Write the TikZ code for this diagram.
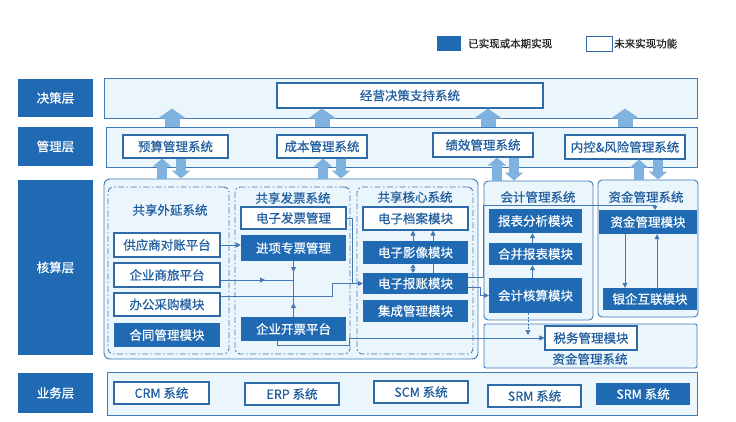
\documentclass[tikz,border=0pt]{standalone}
\usepackage{fontspec}
\setmainfont{Noto Sans CJK SC}[FakeBold=0.5]
\usetikzlibrary{arrows.meta}
\definecolor{dblue}{HTML}{1F6AB3}
\definecolor{pfill}{HTML}{EBF5FC}
\definecolor{pline}{HTML}{3E7BB8}
\definecolor{bline}{HTML}{2E6BA8}
\definecolor{btext}{HTML}{1F5D9E}
\definecolor{afill}{HTML}{7FB2DF}
\definecolor{cline}{HTML}{4577B4}
\pgfdeclarelayer{bg}
\pgfdeclarelayer{conn}
\pgfsetlayers{bg,conn,main}
\tikzset{
 lab/.style={fill=dblue, text=white, inner sep=0},
 panel/.style={fill=pfill, draw=pline, line width=0.9pt, inner sep=0},
 wbox/.style={fill=white, draw=bline, line width=1.1pt, text=btext, inner sep=0},
 bbox/.style={fill=dblue, text=white, inner sep=0},
 grp/.style={draw=cline, line width=0.9pt, dash pattern=on 6pt off 2.5pt on 1.5pt off 2.5pt, rounded corners=5pt, inner sep=0},
 ttl/.style={text=btext, inner sep=0},
 cl/.style={draw=cline, line width=0.8pt},
 tip/.style={-{Triangle[length=5pt,width=5pt]}},
 bigarr/.style={draw=afill, line width=15pt, -{Triangle[length=10pt,width=28pt]}},
 smarr/.style={draw=afill, line width=10pt, -{Triangle[length=8pt,width=18pt]}},
}
\newcommand\mkbox[7]{%
 \pgfmathsetmacro\mkW{#5-#3}\pgfmathsetmacro\mkH{#6-#4}%
 \pgfmathsetmacro\mkX{(#3+#5)/2}\pgfmathsetmacro\mkY{(#4+#6)/2}%
 \node[#1,minimum width=\mkW pt,minimum height=\mkH pt] (#2) at (\mkX,\mkY) {#7};}
\begin{document}
\begin{tikzpicture}[x=1pt,y=-1pt,font=\fontsize{12.5}{14}\selectfont]
\useasboundingbox (0,0) rectangle (736,421);
\begin{pgfonlayer}{bg}
\fill[white] (0,0) rectangle (736,421);
\mkbox{panel}{P1}{104}{78}{697}{118}{}
\mkbox{panel}{P2}{106}{127}{697}{167}{}
\mkbox{panel,rounded corners=6pt}{P3}{104}{179}{478}{359}{}
\mkbox{panel,rounded corners=4pt}{P4}{484}{181}{593}{320}{}
\mkbox{panel,rounded corners=4pt}{P5}{598}{180}{698}{317}{}
\mkbox{panel,rounded corners=2pt}{P6}{484}{324}{697}{368}{}
\mkbox{panel}{P7}{107}{372}{697}{415}{}
\mkbox{grp}{D1}{108}{187}{229}{354}{}
\mkbox{grp}{D2}{235}{187}{350}{354}{}
\mkbox{grp}{D3}{357}{187}{473}{354}{}
\end{pgfonlayer}

% legend
\mkbox{bbox}{lg1}{437}{36}{461}{51}{}
\node[anchor=west, text=black!85, inner sep=0, font=\fontsize{10.5}{12}\selectfont] (lt1) at (468,43.5) {已实现或本期实现};
\mkbox{wbox,line width=0.9pt}{lg2}{586}{36}{612}{51}{}
\node[anchor=west, text=black!85, inner sep=0, font=\fontsize{10.5}{12}\selectfont] (lt2) at (614,43.5) {未来实现功能};

% layer labels
\mkbox{lab}{L1}{18}{79}{93}{117}{决策层}
\mkbox{lab}{L2}{18}{127}{93}{166}{管理层}
\mkbox{lab}{L3}{18}{180}{93}{355}{核算层}
\mkbox{lab}{L4}{18}{373}{93}{413}{业务层}

% decision / management
\mkbox{wbox}{jc}{277}{83}{543}{108}{经营决策支持系统}
\mkbox{wbox}{ys}{123}{135}{228}{158}{预算管理系统}
\mkbox{wbox}{cb}{277}{135}{367}{158}{成本管理系统}
\mkbox{wbox}{jx2}{433}{133}{533}{157}{绩效管理系统}
\mkbox{wbox}{nk}{565}{135}{685}{159}{内控\&风险管理系统}

% titles
\node[ttl] (t1) at (170,210) {共享外延系统};
\node[ttl] (t2) at (293,198) {共享发票系统};
\node[ttl] (t3) at (415,197) {共享核心系统};
\node[ttl] (t4) at (538,197) {会计管理系统};
\node[ttl] (t5) at (646,197) {资金管理系统};
\node[ttl] (t6) at (590,359) {资金管理系统};

% shared extension
\mkbox{wbox}{gys}{114}{233}{220}{257}{供应商对账平台}
\mkbox{wbox}{sl}{114}{263}{220}{287}{企业商旅平台}
\mkbox{wbox}{bg}{114}{293}{220}{316}{办公采购模块}
\mkbox{bbox}{ht}{114}{323}{220}{347}{合同管理模块}
% shared invoice
\mkbox{wbox}{fp}{241}{207}{346}{229}{电子发票管理}
\mkbox{bbox}{jx}{241}{235}{346}{261}{进项专票管理}
\mkbox{bbox}{kp}{241}{317}{346}{341}{企业开票平台}
% shared core
\mkbox{wbox}{da}{363}{207}{468}{230}{电子档案模块}
\mkbox{bbox}{yx}{363}{241}{468}{264}{电子影像模块}
\mkbox{bbox}{bz}{363}{273}{468}{294}{电子报账模块}
\mkbox{bbox}{jcm}{363}{300}{468}{322}{集成管理模块}
% accounting
\mkbox{bbox}{bb}{489}{209}{582}{233}{报表分析模块}
\mkbox{bbox}{hb}{489}{243}{582}{265}{合并报表模块}
\mkbox{bbox}{hs}{489}{278}{582}{313}{会计核算模块}
% fund
\mkbox{bbox}{zjmk}{599}{210}{697}{234}{资金管理模块}
\mkbox{bbox}{yq}{603}{288}{697}{310}{银企互联模块}
\mkbox{wbox}{sw}{545}{326}{637}{350}{税务管理模块}

% business layer
\mkbox{wbox}{crm}{114}{382}{209}{404}{CRM 系统}
\mkbox{wbox}{erp}{245}{383}{339}{405}{ERP 系统}
\mkbox{wbox}{scm}{374}{381}{468}{403}{SCM 系统}
\mkbox{wbox}{srm1}{488}{385}{581}{407}{SRM 系统}
\mkbox{bbox}{srm2}{596}{383}{690}{405}{SRM 系统}

% block arrows
\foreach \x [count=\i] in {172,322,488,625} {\coordinate (ba\i) at (\x,0);}
\foreach \i in {1,...,4} {\draw[bigarr] (P2.north -| ba\i) -- (jc.south -| ba\i);}
\coordinate (u1) at (162,0); \coordinate (d1) at (181,0);
\coordinate (u2) at (323,0); \coordinate (d2) at (341,0);
\coordinate (u3) at (497,0); \coordinate (d3) at (514,0);
\coordinate (u4) at (639,0); \coordinate (d4) at (658,0);
\draw[smarr] (P3.north -| u1) -- (ys.south -| u1);
\draw[smarr] (ys.south -| d1) -- (P3.north -| d1);
\draw[smarr] (P3.north -| u2) -- (cb.south -| u2);
\draw[smarr] (cb.south -| d2) -- (P3.north -| d2);
\draw[smarr] (P4.north -| u3) -- (jx2.south -| u3);
\draw[smarr] (jx2.south -| d3) -- (P4.north -| d3);
\draw[smarr] (P5.north -| u4) -- (nk.south -| u4);
\draw[smarr] (nk.south -| d4) -- (P5.north -| d4);

% connectors
\coordinate (j1) at (293.5,280);
\coordinate (j2) at (293.5,296);
\coordinate (j3) at (332,296);
\coordinate (j4) at (352,283.5);
\coordinate (ja) at (293.5,272);
\coordinate (jb) at (293.5,303);
\coordinate (jcx) at (265,280);
\coordinate (jA) at (655,205);
\coordinate (jD) at (528,335);
\coordinate (jE) at (349,338);
\coordinate (c625) at (625,0);
\coordinate (c657) at (657,0);
\begin{pgfonlayer}{conn}
\draw[cl,tip] (gys.east) -- (gys.east -| jx.west);
\draw[cl] (jx.south) -- (kp.north);
\draw[cl,tip] (jx.south) -- (ja);
\draw[cl,tip] (kp.north) -- (jb);
\draw[cl] (sl.east |- j1) -- (j1);
\draw[cl,tip] (sl.east |- j1) -- (jcx);
\draw[cl,tip] (bg.east |- j2) -- (j3) |- (bz.west);
\draw[cl] (fp.east) -| (j4);
\draw[cl,{Triangle[length=4pt,width=5pt]}-{Triangle[length=4pt,width=5pt]}] ([xshift=-2.5pt]bz.north) -- ([xshift=-2.5pt]yx.south);
\draw[cl,tip] ([xshift=-2.5pt]yx.north) -- ([xshift=-2.5pt]da.south);
\draw[cl] ([xshift=17.5pt]bz.north) -- ([xshift=17.5pt]yx.south);
\draw[cl,tip] ([xshift=17.5pt]yx.north) -- ([xshift=17.5pt]da.south);
\draw[cl,-{Triangle[length=4pt,width=5pt]}] ([yshift=6pt]bz.east) -- ++(15,0) |- (jA) -- (jA |- zjmk.north);
\draw[cl,tip] ([yshift=-4pt]bz.east) -- ++(12,0) |- (hs.west);
\draw[cl,tip] ([xshift=-3pt]hs.north) -- ([xshift=-3pt]hb.south);
\draw[cl,tip] ([xshift=-3pt]hb.north) -- ([xshift=-3pt]bb.south);
\draw[cl,dash pattern=on 2pt off 1.5pt,tip] ([xshift=-7.5pt]hs.south) -- (jD);
\draw[cl,tip] ([xshift=-16pt]kp.south) -- ++(0,4) -| (jE) |- (sw.west);
\draw[cl,tip] (zjmk.south -| c625) -- (yq.north -| c625);
\draw[cl,tip] (yq.north -| c657) -- (zjmk.south -| c657);
\end{pgfonlayer}
\end{tikzpicture}
\end{document}
